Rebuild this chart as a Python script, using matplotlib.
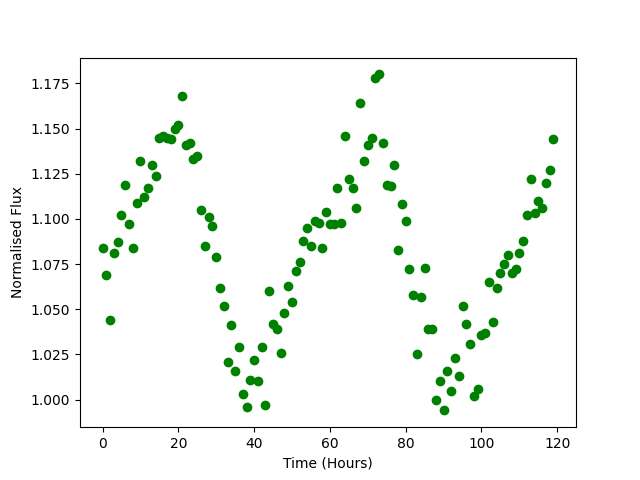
import matplotlib
matplotlib.use("Agg")
import matplotlib.pyplot as plt
import numpy as np

# hourly samples, 0..119
time_hours = np.arange(120)
flux = [
    1.084, 1.069, 1.044, 1.081, 1.087, 1.102, 1.119, 1.097, 1.084, 1.109,
    1.132, 1.112, 1.117, 1.130, 1.124, 1.145, 1.146, 1.145, 1.144, 1.150,
    1.152, 1.168, 1.141, 1.142, 1.133, 1.135, 1.105, 1.085, 1.101, 1.096,
    1.079, 1.062, 1.052, 1.021, 1.041, 1.016, 1.029, 1.003, 0.996, 1.011,
    1.022, 1.010, 1.029, 0.997, 1.060, 1.042, 1.039, 1.026, 1.048, 1.063,
    1.054, 1.071, 1.076, 1.088, 1.095, 1.085, 1.099, 1.098, 1.084, 1.104,
    1.097, 1.097, 1.117, 1.098, 1.146, 1.122, 1.117, 1.106, 1.164, 1.132,
    1.141, 1.145, 1.178, 1.180, 1.142, 1.119, 1.118, 1.130, 1.083, 1.108,
    1.099, 1.072, 1.058, 1.025, 1.057, 1.073, 1.039, 1.039, 1.000, 1.010,
    0.994, 1.016, 1.005, 1.023, 1.013, 1.052, 1.042, 1.031, 1.002, 1.006,
    1.036, 1.037, 1.065, 1.043, 1.062, 1.070, 1.075, 1.080, 1.070, 1.072,
    1.081, 1.088, 1.102, 1.122, 1.103, 1.110, 1.106, 1.120, 1.127, 1.144,
]

plt.figure(figsize=(6.4, 4.8), dpi=100)
plt.plot(time_hours, flux, 'o', color='green')
plt.xlabel('Time (Hours)')
plt.ylabel('Normalised Flux')
plt.savefig('out.png')
